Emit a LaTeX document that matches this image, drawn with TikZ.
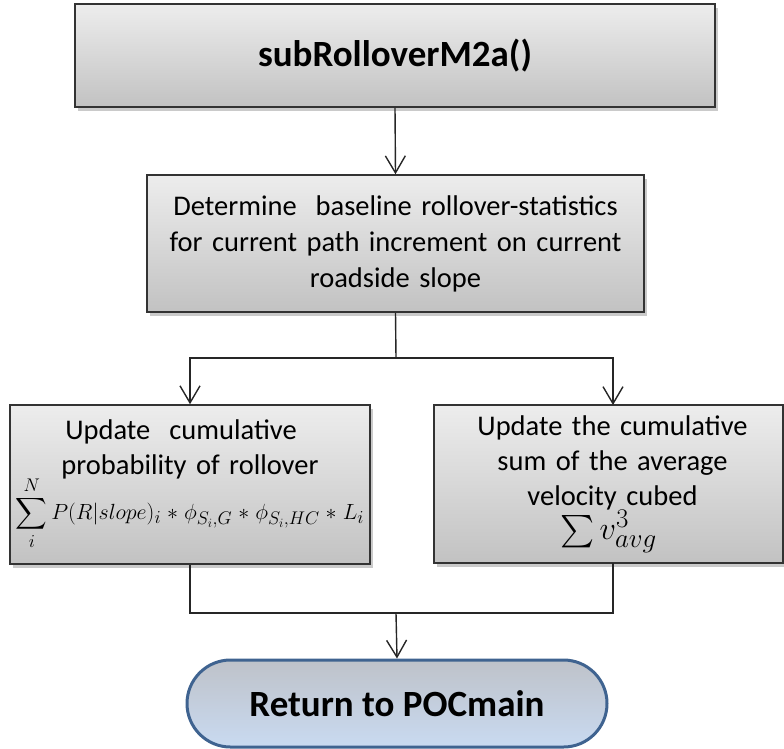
\documentclass[tikz,border=0pt]{standalone}
\usepackage{fontspec}
\setmainfont{Carlito}
\usepackage{amsmath}
\usepackage{graphicx}
\usetikzlibrary{arrows.meta,shadows,shapes.misc}
\definecolor{termborder}{HTML}{3F6390}
\definecolor{termtop}{HTML}{BEC2C9}
\definecolor{termbot}{HTML}{C9DAF1}
\definecolor{boxtop}{HTML}{EDEDED}
\definecolor{boxbot}{HTML}{C2C2C2}
\newcommand{\mstar}{\mskip1mu*\mskip1mu}
\begin{document}
\begin{tikzpicture}[x=1pt,y=-1pt,
  box/.style={draw=black!80, line width=1.6pt, top color=boxtop, bottom color=boxbot,
    drop shadow={shadow xshift=3pt,shadow yshift=-4pt,opacity=0.35,fill=black!60},
    align=center, inner sep=0pt},
  bodytext/.style={font=\fontsize{28.5}{35}\selectfont},
  conn/.style={draw=black!85, line width=1.4pt},
  arr/.style={conn, -{Straight Barb[length=17pt,width=20pt,line width=1.4pt]}},
  term/.style={rounded rectangle, draw=termborder, line width=3pt, top color=termtop, bottom color=termbot,
    minimum width=420pt, minimum height=87pt, inner sep=0pt,
    font=\fontsize{37}{44}\selectfont\bfseries}
]
\useasboundingbox (0,0) rectangle (784,748);
\clip (0,0) rectangle (784,748);
\node[box, minimum width=640pt, minimum height=103pt, font=\fontsize{37}{44}\selectfont\bfseries] (top) at (395,55.5) {subRolloverM2a()};
\node[box, bodytext, minimum width=497pt, minimum height=137pt, text width=490pt] (det) at (395.5,243.5)
  {Determine\ \ baseline rollover-statistics\\[1pt]for current path increment on current\\[1pt]roadside slope};
\node[box, bodytext, minimum width=360pt, minimum height=159pt, text width=356pt] (left) at (190,484.5)
  {\hspace*{-18pt}Update\ \ cumulative\\probability of rollover\\[-3pt]
   \resizebox{348pt}{!}{$\displaystyle\sum_{i}^{N} P(R|slope)_i \mstar \phi_{S_i,G} \mstar \phi_{S_i,HC} \mstar L_i$}};
\node[box, bodytext, minimum width=349pt, minimum height=158pt, text width=345pt] (right) at (608.5,484)
  {\hspace*{8pt}Update the cumulative\\\hspace*{8pt}sum of the average\\\hspace*{8pt}velocity cubed\\[-1pt]\scalebox{1.3}{$\sum v_{avg}^3$}};
\node[term] (ret) at (397,703.5) {Return to POCmain};
\coordinate (split) at (396,358);
\coordinate (rin) at (613,405);
\coordinate (rout) at (613,563);
\coordinate (merge) at (396,613);
\draw[arr] (top.south) -- (det.north);
\draw[conn] (det.south) -- (split);
\draw[arr] (split) -| (left.north);
\draw[arr] (split) -| (rin);
\draw[conn] (left.south) |- (merge);
\draw[conn] (rout) |- (merge);
\draw[arr] (merge) -- (ret.north);
\end{tikzpicture}
\end{document}
